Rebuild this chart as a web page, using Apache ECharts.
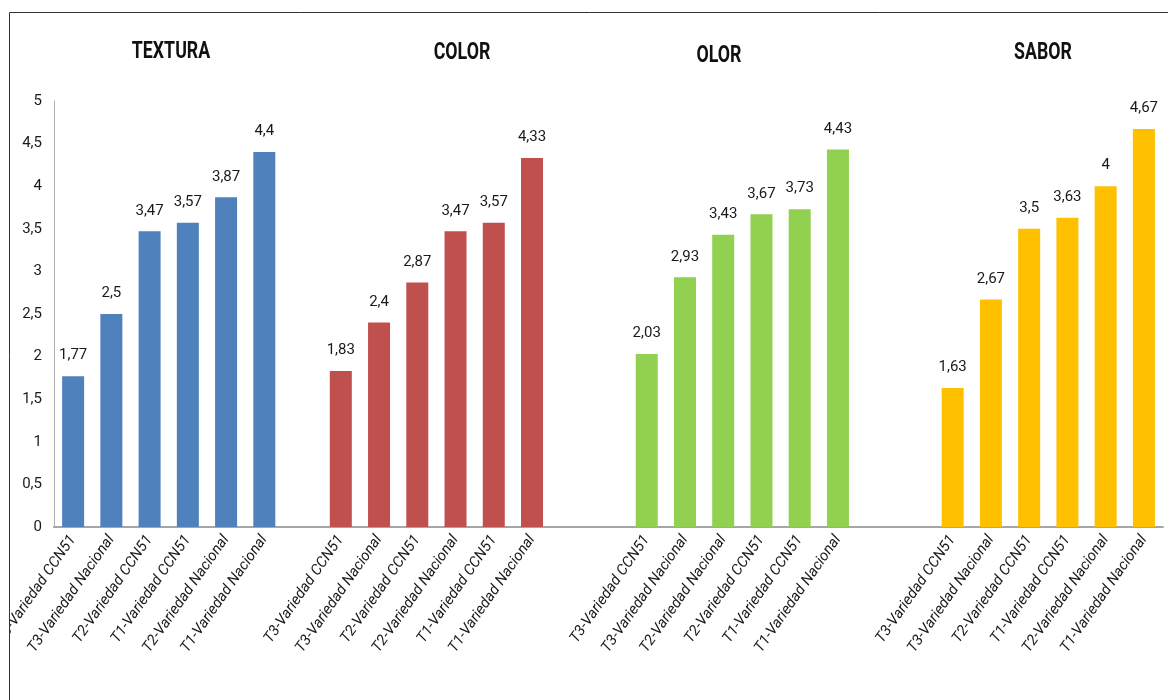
<!DOCTYPE html>
<html>
<head>
<meta charset="utf-8">
<script src="https://cdn.jsdelivr.net/npm/echarts@6/dist/echarts.min.js"></script>
<style>
  html, body { margin: 0; padding: 0; background: #fff; }
  #main { width: 1168px; height: 700px; }
</style>
</head>
<body>
<div id="main"></div>
<script>
// grupos y valores
var grupos = ['TEXTURA', 'COLOR', 'OLOR', 'SABOR'];
var catTextura = ['T3-Variedad CCN51', 'T3-Variedad Nacional', 'T2-Variedad CCN51', 'T1-Variedad CCN51', 'T2-Variedad Nacional', 'T1-Variedad Nacional'];
var catColor = ['T3-Variedad CCN51', 'T3-Variedad Nacional', 'T2-Variedad CCN51', 'T2-Variedad Nacional', 'T1-Variedad CCN51', 'T1-Variedad Nacional'];
var catOlor = ['T3-Variedad CCN51', 'T3-Variedad Nacional', 'T2-Variedad Nacional', 'T2-Variedad CCN51', 'T1-Variedad CCN51', 'T1-Variedad Nacional'];
var catSabor = ['T3-Variedad CCN51', 'T3-Variedad Nacional', 'T2-Variedad CCN51', 'T1-Variedad CCN51', 'T2-Variedad Nacional', 'T1-Variedad Nacional'];
var valTextura = [1.77, 2.5, 3.47, 3.57, 3.87, 4.4];
var valColor = [1.83, 2.4, 2.87, 3.47, 3.57, 4.33];
var valOlor = [2.03, 2.93, 3.43, 3.67, 3.73, 4.43];
var valSabor = [1.63, 2.67, 3.5, 3.63, 4, 4.67];
// huecos vacios entre grupos
var huecos = [1, 2, 2];
var colores = ['#4F81BD', '#C0504D', '#92D050', '#FFC000'];

var fuente = "Roboto, 'Noto Sans', sans-serif";
var cats = [catTextura, catColor, catOlor, catSabor];
var vals = [valTextura, valColor, valOlor, valSabor];

// armar eje de categorias con huecos
var ejeX = [];
var series = [];
var inicio = [];
for (var g = 0; g < cats.length; g++) {
    inicio.push(ejeX.length);
    ejeX = ejeX.concat(cats[g]);
    if (g < huecos.length) {
        for (var h = 0; h < huecos[g]; h++) ejeX.push('');
    }
}
for (var g = 0; g < cats.length; g++) {
    var d = [];
    for (var i = 0; i < ejeX.length; i++) d.push('-');
    for (var j = 0; j < vals[g].length; j++) d[inicio[g] + j] = vals[g][j];
    series.push({
        name: grupos[g],
        type: 'bar',
        stack: 'total',
        barWidth: 22,
        data: d,
        itemStyle: { color: colores[g] },
        label: {
            show: true,
            position: 'top',
            distance: 13,
            color: '#1a1a1a',
            fontFamily: fuente,
            fontSize: 15,
            formatter: function (p) { return String(p.value).replace('.', ','); }
        }
    });
}

// titulos de cada grupo (texto angosto como en el original)
var posTitulos = [[171, 52], [462, 53], [719, 56], [1043, 53]];
var graficos = grupos.map(function (t, k) {
    return {
        type: 'text',
        x: posTitulos[k][0],
        y: posTitulos[k][1],
        scaleX: 0.74,
        silent: true,
        z: 50,
        style: {
            text: t,
            align: 'center',
            verticalAlign: 'middle',
            font: 'bold 24px ' + fuente,
            fill: '#111'
        }
    };
});
// tapa el borde izquierdo y dibuja el marco
graficos.push({
    type: 'rect',
    z: 99,
    silent: true,
    shape: { x: 0, y: 0, width: 9, height: 700 },
    style: { fill: '#fff' }
});
graficos.push({
    type: 'rect',
    z: 100,
    silent: true,
    shape: { x: 9.5, y: 12.5, width: 1300, height: 800 },
    style: { fill: 'none', stroke: '#333', lineWidth: 1 }
});

var myChart = echarts.init(document.getElementById('main'));
myChart.setOption({
    animation: false,
    backgroundColor: '#fff',
    graphic: graficos,
    grid: { left: 54, right: 5, top: 101, bottom: 173, outerBoundsMode: 'none', containLabel: false },
    xAxis: {
        type: 'category',
        data: ejeX,
        axisLine: { lineStyle: { color: '#a6a6a6', width: 2 } },
        axisTick: { show: false },
        axisLabel: {
            interval: 0,
            rotate: 55,
            margin: 10,
            fontFamily: fuente,
            fontStyle: 'italic',
            fontSize: 15,
            color: '#1a1a1a'
        }
    },
    yAxis: {
        type: 'value',
        min: 0,
        max: 5,
        interval: 0.5,
        axisLine: { show: true, lineStyle: { color: '#b0b0b0', width: 1 } },
        axisTick: { show: false },
        splitLine: { show: false },
        axisLabel: {
            margin: 12,
            fontFamily: fuente,
            fontSize: 15,
            color: '#1a1a1a',
            formatter: function (v) { return String(v).replace('.', ','); }
        }
    },
    series: series
});
</script>
</body>
</html>
